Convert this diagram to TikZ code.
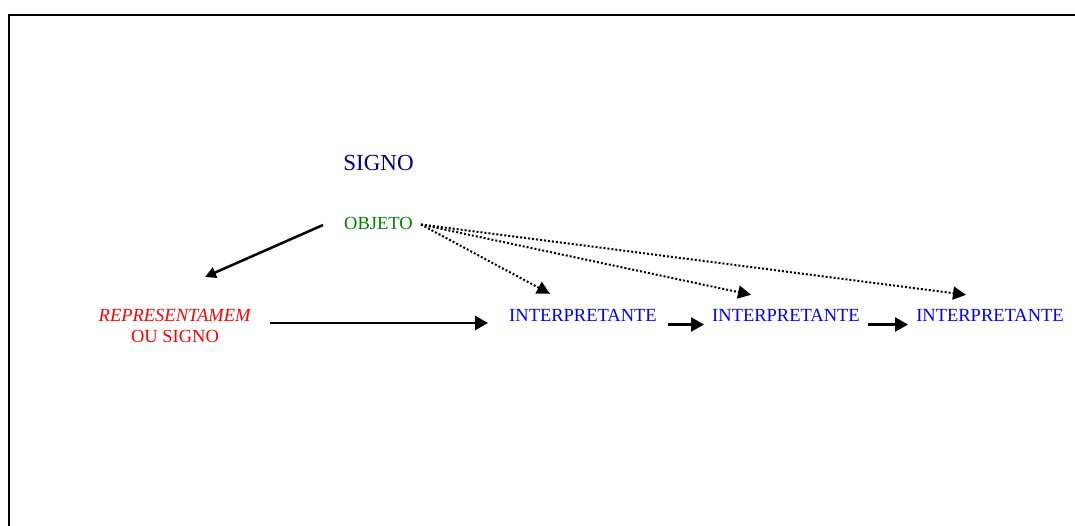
\documentclass[tikz,border=0pt]{standalone}
\usepackage{fontspec}
\setmainfont{Liberation Serif}
\usetikzlibrary{arrows.meta,calc}
\definecolor{signonavy}{RGB}{0,0,128}
\definecolor{objgreen}{RGB}{0,128,0}
\definecolor{reprred}{RGB}{255,0,0}
\definecolor{interpblue}{RGB}{0,0,255}
\begin{document}
\begin{tikzpicture}[x=1pt,y=-1pt,
  lbl/.style={inner sep=0pt, font=\fontsize{18.5}{21.5}\selectfont},
  arr/.style={line width=2.5pt, -{Triangle[length=13pt,width=14pt]}},
  dotarr/.style={line width=2pt, dash pattern=on 2pt off 2pt, -{Triangle[length=13pt,width=13pt]}}]
\useasboundingbox (0,0) rectangle (1075,525);
\clip (0,0) rectangle (1075,525);
\draw[line width=2.2pt] (9,545) -- (9,15) -- (1095,15);

\node[lbl, text=signonavy, font=\fontsize{23}{27}\selectfont] (signo) at (378.5,163) {SIGNO};
\node[lbl, text=objgreen] (obj) at (378.5,223.5) {OBJETO};
\node[lbl, text=reprred, align=center, anchor=north] (rep) at (175,309) {\textit{REPRESENTAMEM}\\OU SIGNO};
\node[lbl, text=interpblue] (i1) at (583,315.5) {INTERPRETANTE};
\node[lbl, text=interpblue] (i2) at (786,315.5) {INTERPRETANTE};
\node[lbl, text=interpblue] (i3) at (990,315.5) {INTERPRETANTE};

\draw[arr, -{Triangle[length=11pt,width=11pt]}] ($(obj.west)+(-21,1.5)$) -- ($(rep.north)+(30,-32)$);
\draw[arr] ($(rep.north east)+(19,14)$) -- ($(i1.west)+(-21,7.5)$);
\draw[arr] ($(i1.east)+(11,9)$) -- ($(i2.west)+(-8,9)$);
\draw[arr] ($(i2.east)+(8,9)$) -- ($(i3.west)+(-8,9)$);

\draw[dotarr] ($(obj.east)+(8,1)$) -- ($(i1.north)+(-33,-15.4)$);
\draw[dotarr] ($(obj.east)+(8,1)$) -- ($(i2.north)+(-35,-14.4)$);
\draw[dotarr] ($(obj.east)+(8,1)$) -- ($(i3.north)+(-24,-14.4)$);
\end{tikzpicture}
\end{document}
